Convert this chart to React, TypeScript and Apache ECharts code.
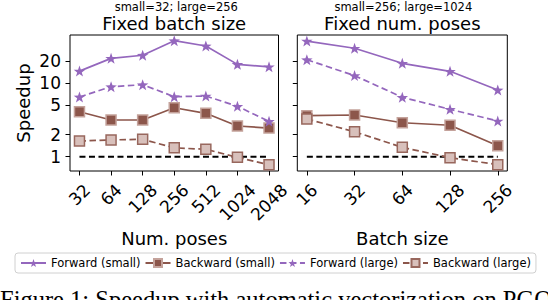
import React, { useEffect, useRef } from "react";
import * as echarts from "echarts";

// ---- data ----
const posesX = [32, 64, 128, 256, 512, 1024, 2048];
const fwdSmallPoses = [14.5, 21.6, 23.8, 37.5, 31.8, 17.9, 16.6];
const bwdSmallPoses = [4.08, 3.15, 3.15, 4.62, 3.88, 2.61, 2.45];
const fwdLargePoses = [6.46, 8.9, 9.48, 6.52, 6.66, 4.83, 3.02];
const bwdLargePoses = [1.63, 1.69, 1.72, 1.32, 1.26, 0.98, 0.78];

const batchX = [16, 32, 64, 128, 256];
const fwdSmallBatch = [37.1, 29.6, 18.5, 14.4, 8.04];
const bwdSmallBatch = [3.6, 3.68, 2.89, 2.67, 1.41];
const fwdLargeBatch = [20.7, 12.6, 6.4, 4.4, 3.05];
const bwdLargeBatch = [3.25, 2.18, 1.34, 0.97, 0.78];

const yTicks = [1, 2, 5, 10, 20];
const baselineValue = 1;

const seriesNames = ["Forward (small)", "Backward (small)", "Forward (large)", "Backward (large)"];

// ---- layout ----
const G1 = { left: 70, top: 35, width: 208.5, height: 136 };
const G2 = { left: 297.3, top: 35, width: 210, height: 136 };
const FONT = "DejaVu Sans";
const PURPLE = "#9467bd";
const BROWN = "#8c564b";
const STAR =
  "path://M0,-10L2.35,-3.24L9.51,-3.09L3.8,1.24L5.88,8.09L0,4L-5.88,8.09L-3.8,1.24L-9.51,-3.09L-2.35,-3.24Z";

const tickFont = 17;
const digitW = 0.636 * tickFont;
const rich: Record<string, any> = {};
[1, 2, 3, 4].forEach((n) => {
  const w = n * digitW;
  rich["n" + n] = {
    fontSize: tickFont,
    fontFamily: FONT,
    color: "#000",
    padding: [w / 2, w / 2, 0, 0],
  };
});

function xAxis(gridIndex: number, ticks: number[]) {
  const lo = Math.log2(ticks[0]);
  const hi = Math.log2(ticks[ticks.length - 1]);
  const m = (hi - lo) * 0.05;
  return {
    type: "log",
    logBase: 2,
    gridIndex,
    min: Math.pow(2, lo - m),
    max: Math.pow(2, hi + m),
    axisLine: { show: false },
    splitLine: { show: false },
    axisTick: { show: true, length: 4.5, lineStyle: { color: "#000", width: 1 }, customValues: ticks },
    axisLabel: {
      customValues: ticks,
      rotate: 45,
      align: "center",
      verticalAlign: "middle",
      margin: 16,
      formatter: (v: number) => {
        const s = String(Math.round(v));
        return "{n" + s.length + "|" + s + "}";
      },
      rich,
    },
  };
}

function yAxis(gridIndex: number, showLabels: boolean) {
  return {
    type: "log",
    gridIndex,
    min: 0.64,
    max: 44.8,
    axisLine: { show: false },
    splitLine: { show: false },
    axisTick: { show: true, length: 4.5, lineStyle: { color: "#000", width: 1 }, customValues: yTicks },
    axisLabel: {
      show: showLabels,
      customValues: yTicks,
      fontSize: tickFont,
      fontFamily: FONT,
      color: "#000",
      margin: 9,
      formatter: (v: number) => String(Math.round(v)),
    },
  };
}

function pairs(xs: number[], ys: number[]) {
  return xs.map((x, i) => [x, ys[i]]);
}

function lineSeries(name: string, idx: number, xs: number[], ys: number[]) {
  const isFwd = name.startsWith("Forward");
  const isLarge = name.includes("large");
  const color = isFwd ? PURPLE : BROWN;
  return {
    type: "line",
    name,
    xAxisIndex: idx,
    yAxisIndex: idx,
    data: pairs(xs, ys),
    symbol: isFwd ? STAR : "rect",
    symbolSize: isFwd ? [11.5, 11] : 10,
    lineStyle: { color, width: 1.7, type: isLarge ? [6.5, 3.5] : "solid" },
    itemStyle: isFwd
      ? { color: PURPLE, borderWidth: 0 }
      : isLarge
      ? { color: "#d8c0bb", borderColor: "#98675d", borderWidth: 1.5 }
      : { color: BROWN, borderColor: "#c4a29b", borderWidth: 1.5 },
    z: 3,
  };
}

function baseline(idx: number, xs: number[]) {
  return {
    type: "line",
    name: "baseline" + idx,
    xAxisIndex: idx,
    yAxisIndex: idx,
    data: [
      [xs[0], baselineValue],
      [xs[xs.length - 1], baselineValue],
    ],
    symbol: "none",
    lineStyle: { color: "#000", width: 2, type: [6, 3.5] },
    z: 2,
  };
}

const cx1 = G1.left + G1.width / 2;
const cx2 = G2.left + G2.width / 2;

function txt(text: string, x: number, y: number, size: number, extra: any = {}) {
  return {
    type: "text",
    x,
    y,
    style: {
      text,
      fontSize: size,
      fontFamily: FONT,
      fill: "#000",
      textAlign: "center",
      textVerticalAlign: "middle",
      ...(extra.style || {}),
    },
    ...(extra.el || {}),
  };
}

export default function App() {
  const ref = useRef<HTMLDivElement>(null);
  useEffect(() => {
    document.body.style.margin = "0";
    const chart = echarts.init(ref.current!, null, { renderer: "svg" });
    chart.setOption({
      animation: false,
      backgroundColor: "#fff",
      grid: [
        { ...G1, show: true, borderColor: "#000", borderWidth: 1, backgroundColor: "transparent" },
        { ...G2, show: true, borderColor: "#000", borderWidth: 1, backgroundColor: "transparent" },
      ],
      xAxis: [xAxis(0, posesX), xAxis(1, batchX)],
      yAxis: [yAxis(0, true), yAxis(1, false)],
      legend: {
        data: seriesNames,
        left: 15,
        top: 253,
        width: 530,
        padding: [4, 5, 4, 5],
        itemWidth: 25,
        itemHeight: 10,
        itemGap: 4,
        borderColor: "#d0d0d0",
        borderWidth: 1,
        borderRadius: 3,
        textStyle: { fontSize: 11.5, fontFamily: FONT, color: "#000" },
      },
      series: [
        baseline(0, posesX),
        baseline(1, batchX),
        lineSeries(seriesNames[0], 0, posesX, fwdSmallPoses),
        lineSeries(seriesNames[1], 0, posesX, bwdSmallPoses),
        lineSeries(seriesNames[2], 0, posesX, fwdLargePoses),
        lineSeries(seriesNames[3], 0, posesX, bwdLargePoses),
        lineSeries(seriesNames[0], 1, batchX, fwdSmallBatch),
        lineSeries(seriesNames[1], 1, batchX, bwdSmallBatch),
        lineSeries(seriesNames[2], 1, batchX, fwdLargeBatch),
        lineSeries(seriesNames[3], 1, batchX, bwdLargeBatch),
      ],
      graphic: [
        txt("small=32; large=256", cx1 + 2, 6.7, 11.5),
        txt("Fixed batch size", cx1, 23.6, 18),
        txt("small=256; large=1024", cx2 + 1, 6.7, 11.5),
        txt("Fixed num. poses", cx2, 23.6, 18),
        txt("Num. poses", cx1, 238, 18),
        txt("Batch size", cx2, 238, 18),
        txt("Speedup", 23, G1.top + G1.height / 2, 18, { el: { rotation: Math.PI / 2 } }),
        txt("Figure 1: Speedup with automatic vectorization on PGO", 0, 299.8, 24.5, {
          style: { textAlign: "left", fontFamily: "Liberation Serif" },
        }),
      ],
    });
    return () => chart.dispose();
  }, []);
  return <div ref={ref} style={{ width: 548, height: 300 }} />;
}
